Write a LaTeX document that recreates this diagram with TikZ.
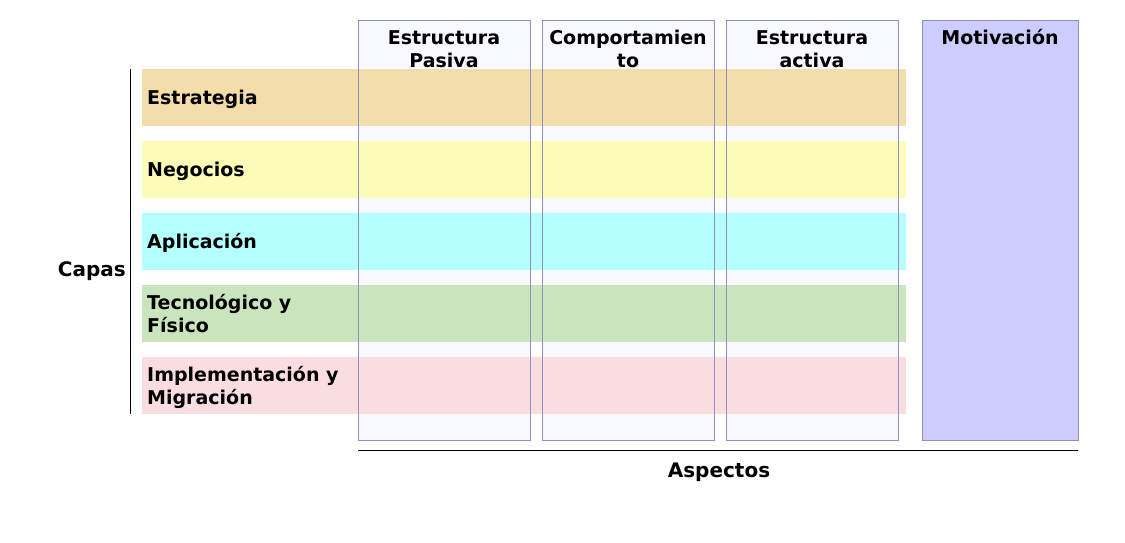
\documentclass[tikz,border=0pt]{standalone}
\usepackage{fontspec}
\setmainfont{DejaVu Sans}
\definecolor{estr}{HTML}{F3DDAB}
\definecolor{nego}{HTML}{FCFCB8}
\definecolor{apli}{HTML}{B4FFFF}
\definecolor{tecn}{HTML}{CAE5BE}
\definecolor{impl}{HTML}{FADDE1}
\definecolor{motiv}{HTML}{CCCCFF}
\definecolor{colfill}{HTML}{F8F8FF}
\definecolor{colline}{HTML}{8F8FC2}
\begin{document}
\begin{tikzpicture}[x=1pt,y=-1pt,
  txt/.style={font=\bfseries\fontsize{19}{22.5}\selectfont, inner sep=0pt},
  axtxt/.style={font=\bfseries\fontsize{20}{24}\selectfont, inner sep=0pt},
  rowbox/.style={rectangle, draw=none, minimum width=764pt, minimum height=57pt, anchor=north west, inner sep=0pt},
  colbox/.style={rectangle, draw=none, minimum width=172pt, minimum height=419pt, anchor=north west, inner sep=0pt, fill=colfill},
  colborder/.style={draw=colline, line width=1pt},
  axis/.style={draw=black, line width=1pt},
]
\useasboundingbox (0,0) rectangle (1125,543);
% columns (background)
\node[colbox] (c1) at (358,21) {};
\node[colbox] (c2) at (542,21) {};
\node[colbox] (c3) at (726,21) {};
\node[colbox, minimum width=156pt, fill=motiv] (c4) at (922,21) {};
% rows
\node[rowbox, fill=estr] (r1) at (142,69) {};
\node[rowbox, fill=nego] (r2) at (142,141) {};
\node[rowbox, fill=apli] (r3) at (142,213) {};
\node[rowbox, fill=tecn] (r4) at (142,285) {};
\node[rowbox, fill=impl] (r5) at (142,357) {};
% column borders on top
\draw[colborder] (c1.north west) rectangle (c1.south east);
\draw[colborder] (c2.north west) rectangle (c2.south east);
\draw[colborder] (c3.north west) rectangle (c3.south east);
\draw[colborder] (c4.north west) rectangle (c4.south east);
% column headers (base anchor = last line baseline)
\node[txt, anchor=base, align=center] (h1) at (444,67) {Estructura\\Pasiva};
\node[txt, anchor=base, align=center] (h2) at (628,67) {Comportamien\\to};
\node[txt, anchor=base, align=center] (h3) at (812,67) {Estructura\\activa};
\node[txt, anchor=base, align=center] (h4) at (1000,44.5) {Motivación};
% row labels
\node[txt, anchor=base west] (l1) at (147,104.5) {Estrategia};
\node[txt, anchor=base west] (l2) at (147,176.5) {Negocios};
\node[txt, anchor=base west] (l3) at (147,248.5) {Aplicación};
\node[txt, anchor=base west, align=left] (l4) at (147,332) {Tecnológico y\\Físico};
\node[txt, anchor=base west, align=left] (l5) at (147,404) {Implementación y\\Migración};
% axes
\coordinate (ctop) at (130,69);
\coordinate (cbot) at (130,414);
\draw[axis] (ctop) -- (cbot);
\node[axtxt, anchor=base east] (capas) at (126,276) {Capas};
\coordinate (aleft) at (358,450.5);
\coordinate (aright) at (1078,450.5);
\draw[axis] (aleft) -- (aright);
\node[axtxt, anchor=base] (aspectos) at (719,477) {Aspectos};
\end{tikzpicture}
\end{document}
